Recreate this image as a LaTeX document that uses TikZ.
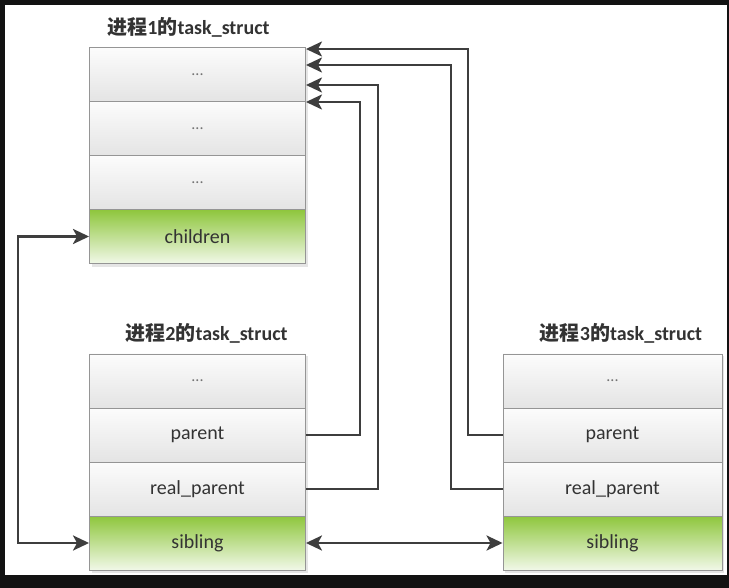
\documentclass[tikz,border=0pt]{standalone}
\usepackage{fontspec}
\setmainfont{Carlito}
\newfontfamily\cjk{Noto Sans CJK SC}
\usetikzlibrary{arrows.meta,calc}
\definecolor{bord}{HTML}{959595}
\definecolor{grtop}{HTML}{FCFCFC}
\definecolor{grbot}{HTML}{E4E4E4}
\definecolor{gntop}{HTML}{8EC63C}
\definecolor{gnbot}{HTML}{F1F8E8}
\definecolor{txt}{HTML}{333333}
\definecolor{arrc}{HTML}{3E3E3E}
\begin{document}
\begin{tikzpicture}[x=1pt,y=-1pt,
  row/.style={draw=bord, line width=0.9pt, minimum width=216pt, minimum height=54pt, inner sep=0pt,
    text=txt, font=\fontsize{20}{22}\selectfont, top color=grtop, bottom color=grbot},
  row3/.style={row, minimum width=219pt},
  grn/.style={top color=gntop, bottom color=gnbot},
  dotted row/.style={font=\fontsize{16}{16}\selectfont, text=black!55},
  ttl/.style={font=\fontsize{20}{22}\selectfont\bfseries, text=txt},
  >={Stealth[length=16pt,width=15pt,inset=4pt]},
  arr/.style={draw=arrc, line width=2.6pt},
  shd/.style={fill=black, opacity=0.10}]

\fill[black!93] (0,0) rectangle (729,588);
\fill[white] (5,5) rectangle (727,575);
\useasboundingbox (0,0) rectangle (729,588);

% shadows
\fill[shd] (92,49) rectangle (308,267);
\fill[shd] (92,356) rectangle (308,573);
\fill[shd] (505,356) rectangle (724,573);

% titles
\node[ttl] (t1) at (188.5,27) {{\cjk\bfseries 进程}1{\cjk\bfseries 的}task\_struct};
\node[ttl] (t2) at (206.5,333) {{\cjk\bfseries 进程}2{\cjk\bfseries 的}task\_struct};
\node[ttl] (t3) at (621,333) {{\cjk\bfseries 进程}3{\cjk\bfseries 的}task\_struct};

% process 1
\node[row, dotted row] (b1a) at (197.5,74.5) {...};
\node[row, dotted row] (b1b) at (197.5,128.5) {...};
\node[row, dotted row] (b1c) at (197.5,182.5) {...};
\node[row, grn] (b1d) at (197.5,236.5) {children};

% process 2
\node[row, dotted row] (b2a) at (197.5,381) {...};
\node[row] (b2b) at (197.5,435) {parent};
\node[row] (b2c) at (197.5,489) {real\_parent};
\node[row, grn] (b2d) at (197.5,543) {sibling};

% process 3
\node[row3, dotted row] (b3a) at (612.5,381) {...};
\node[row3] (b3b) at (612.5,435) {parent};
\node[row3] (b3c) at (612.5,489) {real\_parent};
\node[row3, grn] (b3d) at (612.5,543) {sibling};

% arrow targets on the right side of process 1
\coordinate (in1) at (306,49);
\coordinate (in2) at (306,65);
\coordinate (in3) at (306,85);
\coordinate (in4) at (306,102);

\draw[arr,->] (b3b.west) -- (468,435) -- (468,49) -- (in1);
\draw[arr,->] (b3c.west) -- (451,489) -- (451,65) -- (in2);
\draw[arr,->] (b2c.east) -- (378,489) -- (378,85) -- (in3);
\draw[arr,->] (b2b.east) -- (360,435) -- (360,102) -- (in4);

\draw[arr,<->] (b1d.west) -- (18,236.5) -- (18,543) -- (b2d.west);
\draw[arr,<->] (b2d.east) -- (b3d.west);
\end{tikzpicture}
\end{document}
